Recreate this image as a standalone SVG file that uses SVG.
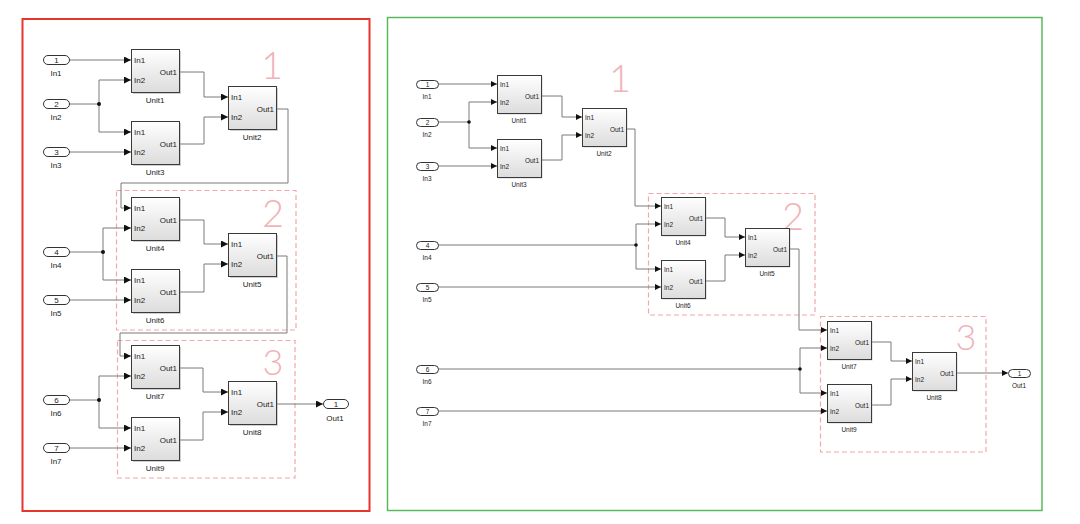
<svg xmlns="http://www.w3.org/2000/svg" width="1080" height="524" viewBox="0 0 1080 524">
<defs>
<linearGradient id="bg" x1="0" y1="0" x2="0" y2="1"><stop offset="0" stop-color="#ffffff"/><stop offset="1" stop-color="#dcdcdc"/></linearGradient>
<marker id="aL" markerUnits="userSpaceOnUse" markerWidth="8" markerHeight="7" refX="7" refY="3.5" orient="auto"><path d="M0,0 L7,3.5 L0,7 z" fill="#111"/></marker>
<marker id="aR" markerUnits="userSpaceOnUse" markerWidth="7" markerHeight="6" refX="6" refY="3" orient="auto"><path d="M0,0 L6,3 L0,6 z" fill="#111"/></marker>
<style>
.blk{fill:url(#bg);stroke:#3a3a3a;stroke-width:1}
.sh{fill:#9a9a9a;opacity:.45}
.pt{fill:#fff;stroke:#333;stroke-width:1}
.t{font-family:"Liberation Sans",Arial,sans-serif;fill:#222}
.s8{font-size:8px}
.s7{font-size:6.5px}
.mid{text-anchor:middle}
.end{text-anchor:end}
.ln{fill:none;stroke:#7a7a7a;stroke-width:1}
.lL{marker-end:url(#aL)}
.lR{marker-end:url(#aR)}
.jd{fill:#111}
.fr{fill:none;stroke:#f2a7aa;stroke-width:1.2;stroke-dasharray:5 3}
.big{font-family:Lato,"Liberation Sans",sans-serif;font-weight:300;fill:#f0b3b8;text-anchor:middle}
</style>
</defs>
<rect width="1080" height="524" fill="#fff"/>
<rect x="22.5" y="19" width="347" height="492" fill="none" stroke="#e8332f" stroke-width="2"/>
<rect x="387.5" y="17.5" width="654.5" height="493" fill="none" stroke="#5cb85c" stroke-width="1.5"/>

<!-- frames -->
<g id="frames">
<rect class="fr" x="116.5" y="190.5" width="179.5" height="139.5"/>
<rect class="fr" x="117.5" y="340.5" width="177.5" height="137.5"/>
<rect class="fr" x="648.5" y="193.5" width="166.5" height="121.5"/>
<rect class="fr" x="820.5" y="316.5" width="165.5" height="135.5"/>
<text class="big" x="272" y="79" font-size="38">1</text>
<text class="big" x="273" y="227" font-size="38">2</text>
<text class="big" x="273" y="375" font-size="36">3</text>
<text class="big" x="620" y="92" font-size="38">1</text>
<text class="big" x="793" y="230" font-size="38">2</text>
<text class="big" x="966" y="350" font-size="36">3</text>
</g>

<!-- connectors -->
<g id="connectors">
<path class="ln lL" d="M69,60 H131"/>
<path class="ln" d="M69,104 H99"/>
<path class="ln lL" d="M99,104 V80 H131"/>
<path class="ln lL" d="M99,104 V132 H131"/>
<path class="ln lL" d="M69,152 H131"/>
<path class="ln lL" d="M179,72 H204 V97 H228"/>
<path class="ln lL" d="M179,144 H204 V117 H228"/>
<path class="ln lL" d="M276,109 H288 V183 H121 V208 H131"/>
<path class="ln" d="M69,252 H103"/>
<path class="ln lL" d="M103,252 V228 H131"/>
<path class="ln lL" d="M103,252 V280 H131"/>
<path class="ln lL" d="M69,300 H131"/>
<path class="ln lL" d="M179,220 H204 V244 H228"/>
<path class="ln lL" d="M179,292 H204 V264 H228"/>
<path class="ln lL" d="M276,256 H287 V333 H120 V356 H131"/>
<path class="ln" d="M69,400 H99"/>
<path class="ln lL" d="M99,400 V376 H131"/>
<path class="ln lL" d="M99,400 V428 H131"/>
<path class="ln lL" d="M69,448 H131"/>
<path class="ln lL" d="M179,368 H203 V392 H228"/>
<path class="ln lL" d="M179,440 H203 V412 H228"/>
<path class="ln lL" d="M276,404 H323"/>
<circle class="jd" cx="99" cy="104" r="2"/>
<circle class="jd" cx="103" cy="252" r="2"/>
<circle class="jd" cx="99" cy="400" r="2"/>

<path class="ln lR" d="M438,84 H497"/>
<path class="ln" d="M438,122 H469"/>
<path class="ln lR" d="M469,122 V102 H497"/>
<path class="ln lR" d="M469,122 V148 H497"/>
<path class="ln lR" d="M438,166 H497"/>
<path class="ln lR" d="M541,96 H562 V117 H582"/>
<path class="ln lR" d="M541,160 H562 V135 H582"/>
<path class="ln lR" d="M626,129 H635 V206 H661"/>
<path class="ln" d="M438,245 H636"/>
<path class="ln lR" d="M636,245 V224 H661"/>
<path class="ln lR" d="M636,245 V269 H661"/>
<path class="ln lR" d="M438,287 H661"/>
<path class="ln lR" d="M705,218 H725 V237 H745"/>
<path class="ln lR" d="M705,281 H725 V255 H745"/>
<path class="ln lR" d="M789,249 H799 V330 H827"/>
<path class="ln" d="M438,369 H800"/>
<path class="ln lR" d="M800,369 V348 H827"/>
<path class="ln lR" d="M800,369 V393 H827"/>
<path class="ln lR" d="M438,411 H827"/>
<path class="ln lR" d="M871,342 H891 V361 H912"/>
<path class="ln lR" d="M871,405 H891 V379 H912"/>
<path class="ln lR" d="M956,373 H1008"/>
<circle class="jd" cx="469" cy="122" r="1.8"/>
<circle class="jd" cx="636" cy="245" r="1.8"/>
<circle class="jd" cx="800" cy="369" r="1.8"/>
</g>

<!-- left ports -->
<g id="L_In1"><rect class="pt" x="43.5" y="55.5" width="26" height="9" rx="4.5"/><text class="t s8 mid" x="56.5" y="63">1</text><text class="t s8 mid" x="56" y="76">In1</text></g>
<g id="L_In2"><rect class="pt" x="43.5" y="99.5" width="26" height="9" rx="4.5"/><text class="t s8 mid" x="56.5" y="107">2</text><text class="t s8 mid" x="56" y="120">In2</text></g>
<g id="L_In3"><rect class="pt" x="43.5" y="147.5" width="26" height="9" rx="4.5"/><text class="t s8 mid" x="56.5" y="155">3</text><text class="t s8 mid" x="56" y="168">In3</text></g>
<g id="L_In4"><rect class="pt" x="43.5" y="247.5" width="26" height="9" rx="4.5"/><text class="t s8 mid" x="56.5" y="255">4</text><text class="t s8 mid" x="56" y="268">In4</text></g>
<g id="L_In5"><rect class="pt" x="43.5" y="295.5" width="26" height="9" rx="4.5"/><text class="t s8 mid" x="56.5" y="303">5</text><text class="t s8 mid" x="56" y="316">In5</text></g>
<g id="L_In6"><rect class="pt" x="43.5" y="395.5" width="26" height="9" rx="4.5"/><text class="t s8 mid" x="56.5" y="403">6</text><text class="t s8 mid" x="56" y="416">In6</text></g>
<g id="L_In7"><rect class="pt" x="43.5" y="443.5" width="26" height="9" rx="4.5"/><text class="t s8 mid" x="56.5" y="451">7</text><text class="t s8 mid" x="56" y="464">In7</text></g>
<g id="L_Out1"><rect class="pt" x="323.5" y="399.5" width="25" height="9" rx="4.5"/><text class="t s8 mid" x="336" y="407">1</text><text class="t s8 mid" x="335" y="421">Out1</text></g>

<!-- left units -->
<g id="L_Unit1"><rect class="sh" x="133" y="51" width="48" height="43"/><rect class="blk" x="131.5" y="49.5" width="48" height="43"/><text class="t s8" x="134" y="63">In1</text><text class="t s8" x="134" y="83">In2</text><text class="t s8 end" x="177" y="75">Out1</text><text class="t s8 mid" x="155" y="103">Unit1</text></g>
<g id="L_Unit3"><rect class="sh" x="133" y="123" width="48" height="43"/><rect class="blk" x="131.5" y="121.5" width="48" height="43"/><text class="t s8" x="134" y="135">In1</text><text class="t s8" x="134" y="155">In2</text><text class="t s8 end" x="177" y="147">Out1</text><text class="t s8 mid" x="155" y="175">Unit3</text></g>
<g id="L_Unit2"><rect class="sh" x="230" y="88" width="48" height="43"/><rect class="blk" x="228.5" y="86.5" width="48" height="43"/><text class="t s8" x="231" y="100">In1</text><text class="t s8" x="231" y="120">In2</text><text class="t s8 end" x="274" y="112">Out1</text><text class="t s8 mid" x="252" y="140">Unit2</text></g>
<g id="L_Unit4"><rect class="sh" x="133" y="199" width="48" height="43"/><rect class="blk" x="131.5" y="197.5" width="48" height="43"/><text class="t s8" x="134" y="211">In1</text><text class="t s8" x="134" y="231">In2</text><text class="t s8 end" x="177" y="223">Out1</text><text class="t s8 mid" x="155" y="251">Unit4</text></g>
<g id="L_Unit6"><rect class="sh" x="133" y="271" width="48" height="43"/><rect class="blk" x="131.5" y="269.5" width="48" height="43"/><text class="t s8" x="134" y="283">In1</text><text class="t s8" x="134" y="303">In2</text><text class="t s8 end" x="177" y="295">Out1</text><text class="t s8 mid" x="155" y="323">Unit6</text></g>
<g id="L_Unit5"><rect class="sh" x="230" y="235" width="48" height="43"/><rect class="blk" x="228.5" y="233.5" width="48" height="43"/><text class="t s8" x="231" y="247">In1</text><text class="t s8" x="231" y="267">In2</text><text class="t s8 end" x="274" y="259">Out1</text><text class="t s8 mid" x="252" y="287">Unit5</text></g>
<g id="L_Unit7"><rect class="sh" x="133" y="347" width="48" height="43"/><rect class="blk" x="131.5" y="345.5" width="48" height="43"/><text class="t s8" x="134" y="359">In1</text><text class="t s8" x="134" y="379">In2</text><text class="t s8 end" x="177" y="371">Out1</text><text class="t s8 mid" x="155" y="399">Unit7</text></g>
<g id="L_Unit9"><rect class="sh" x="133" y="419" width="48" height="43"/><rect class="blk" x="131.5" y="417.5" width="48" height="43"/><text class="t s8" x="134" y="431">In1</text><text class="t s8" x="134" y="451">In2</text><text class="t s8 end" x="177" y="443">Out1</text><text class="t s8 mid" x="155" y="471">Unit9</text></g>
<g id="L_Unit8"><rect class="sh" x="230" y="383" width="48" height="43"/><rect class="blk" x="228.5" y="381.5" width="48" height="43"/><text class="t s8" x="231" y="395">In1</text><text class="t s8" x="231" y="415">In2</text><text class="t s8 end" x="274" y="407">Out1</text><text class="t s8 mid" x="252" y="435">Unit8</text></g>

<!-- right ports -->
<g id="R_In1"><rect class="pt" x="416.5" y="80.5" width="22" height="8" rx="4"/><text class="t s7 mid" x="427.5" y="87">1</text><text class="t s7 mid" x="427" y="99">In1</text></g>
<g id="R_In2"><rect class="pt" x="416.5" y="118.5" width="22" height="8" rx="4"/><text class="t s7 mid" x="427.5" y="125">2</text><text class="t s7 mid" x="427" y="137">In2</text></g>
<g id="R_In3"><rect class="pt" x="416.5" y="162.5" width="22" height="8" rx="4"/><text class="t s7 mid" x="427.5" y="169">3</text><text class="t s7 mid" x="427" y="181">In3</text></g>
<g id="R_In4"><rect class="pt" x="416.5" y="241.5" width="22" height="8" rx="4"/><text class="t s7 mid" x="427.5" y="248">4</text><text class="t s7 mid" x="427" y="260">In4</text></g>
<g id="R_In5"><rect class="pt" x="416.5" y="283.5" width="22" height="8" rx="4"/><text class="t s7 mid" x="427.5" y="290">5</text><text class="t s7 mid" x="427" y="302">In5</text></g>
<g id="R_In6"><rect class="pt" x="416.5" y="365.5" width="22" height="8" rx="4"/><text class="t s7 mid" x="427.5" y="372">6</text><text class="t s7 mid" x="427" y="384">In6</text></g>
<g id="R_In7"><rect class="pt" x="416.5" y="407.5" width="22" height="8" rx="4"/><text class="t s7 mid" x="427.5" y="414">7</text><text class="t s7 mid" x="427" y="426">In7</text></g>
<g id="R_Out1"><rect class="pt" x="1008.5" y="369.5" width="22" height="8" rx="4"/><text class="t s7 mid" x="1019.5" y="376">1</text><text class="t s7 mid" x="1019" y="388">Out1</text></g>

<!-- right units -->
<g id="R_Unit1"><rect class="sh" x="498.5" y="76.5" width="44" height="38"/><rect class="blk" x="497.5" y="75.5" width="44" height="38"/><text class="t s7" x="500" y="86.5">In1</text><text class="t s7" x="500" y="104.5">In2</text><text class="t s7 end" x="539" y="98.5">Out1</text><text class="t s7 mid" x="519" y="123">Unit1</text></g>
<g id="R_Unit3"><rect class="sh" x="498.5" y="140.5" width="44" height="38"/><rect class="blk" x="497.5" y="139.5" width="44" height="38"/><text class="t s7" x="500" y="150.5">In1</text><text class="t s7" x="500" y="168.5">In2</text><text class="t s7 end" x="539" y="162.5">Out1</text><text class="t s7 mid" x="519" y="187">Unit3</text></g>
<g id="R_Unit2"><rect class="sh" x="583.5" y="109.5" width="44" height="38"/><rect class="blk" x="582.5" y="108.5" width="44" height="38"/><text class="t s7" x="585" y="119.5">In1</text><text class="t s7" x="585" y="137.5">In2</text><text class="t s7 end" x="624" y="131.5">Out1</text><text class="t s7 mid" x="604" y="156">Unit2</text></g>
<g id="R_Unit4"><rect class="sh" x="662.5" y="198.5" width="44" height="38"/><rect class="blk" x="661.5" y="197.5" width="44" height="38"/><text class="t s7" x="664" y="208.5">In1</text><text class="t s7" x="664" y="226.5">In2</text><text class="t s7 end" x="703" y="220.5">Out1</text><text class="t s7 mid" x="683" y="245">Unit4</text></g>
<g id="R_Unit6"><rect class="sh" x="662.5" y="261.5" width="44" height="38"/><rect class="blk" x="661.5" y="260.5" width="44" height="38"/><text class="t s7" x="664" y="271.5">In1</text><text class="t s7" x="664" y="289.5">In2</text><text class="t s7 end" x="703" y="283.5">Out1</text><text class="t s7 mid" x="683" y="308">Unit6</text></g>
<g id="R_Unit5"><rect class="sh" x="746.5" y="229.5" width="44" height="38"/><rect class="blk" x="745.5" y="228.5" width="44" height="38"/><text class="t s7" x="748" y="239.5">In1</text><text class="t s7" x="748" y="257.5">In2</text><text class="t s7 end" x="787" y="251.5">Out1</text><text class="t s7 mid" x="767" y="276">Unit5</text></g>
<g id="R_Unit7"><rect class="sh" x="828.5" y="322.5" width="44" height="38"/><rect class="blk" x="827.5" y="321.5" width="44" height="38"/><text class="t s7" x="830" y="332.5">In1</text><text class="t s7" x="830" y="350.5">In2</text><text class="t s7 end" x="869" y="344.5">Out1</text><text class="t s7 mid" x="849" y="369">Unit7</text></g>
<g id="R_Unit9"><rect class="sh" x="828.5" y="385.5" width="44" height="38"/><rect class="blk" x="827.5" y="384.5" width="44" height="38"/><text class="t s7" x="830" y="395.5">In1</text><text class="t s7" x="830" y="413.5">In2</text><text class="t s7 end" x="869" y="407.5">Out1</text><text class="t s7 mid" x="849" y="432">Unit9</text></g>
<g id="R_Unit8"><rect class="sh" x="913.5" y="353.5" width="44" height="38"/><rect class="blk" x="912.5" y="352.5" width="44" height="38"/><text class="t s7" x="915" y="363.5">In1</text><text class="t s7" x="915" y="381.5">In2</text><text class="t s7 end" x="954" y="375.5">Out1</text><text class="t s7 mid" x="934" y="400">Unit8</text></g>
</svg>
